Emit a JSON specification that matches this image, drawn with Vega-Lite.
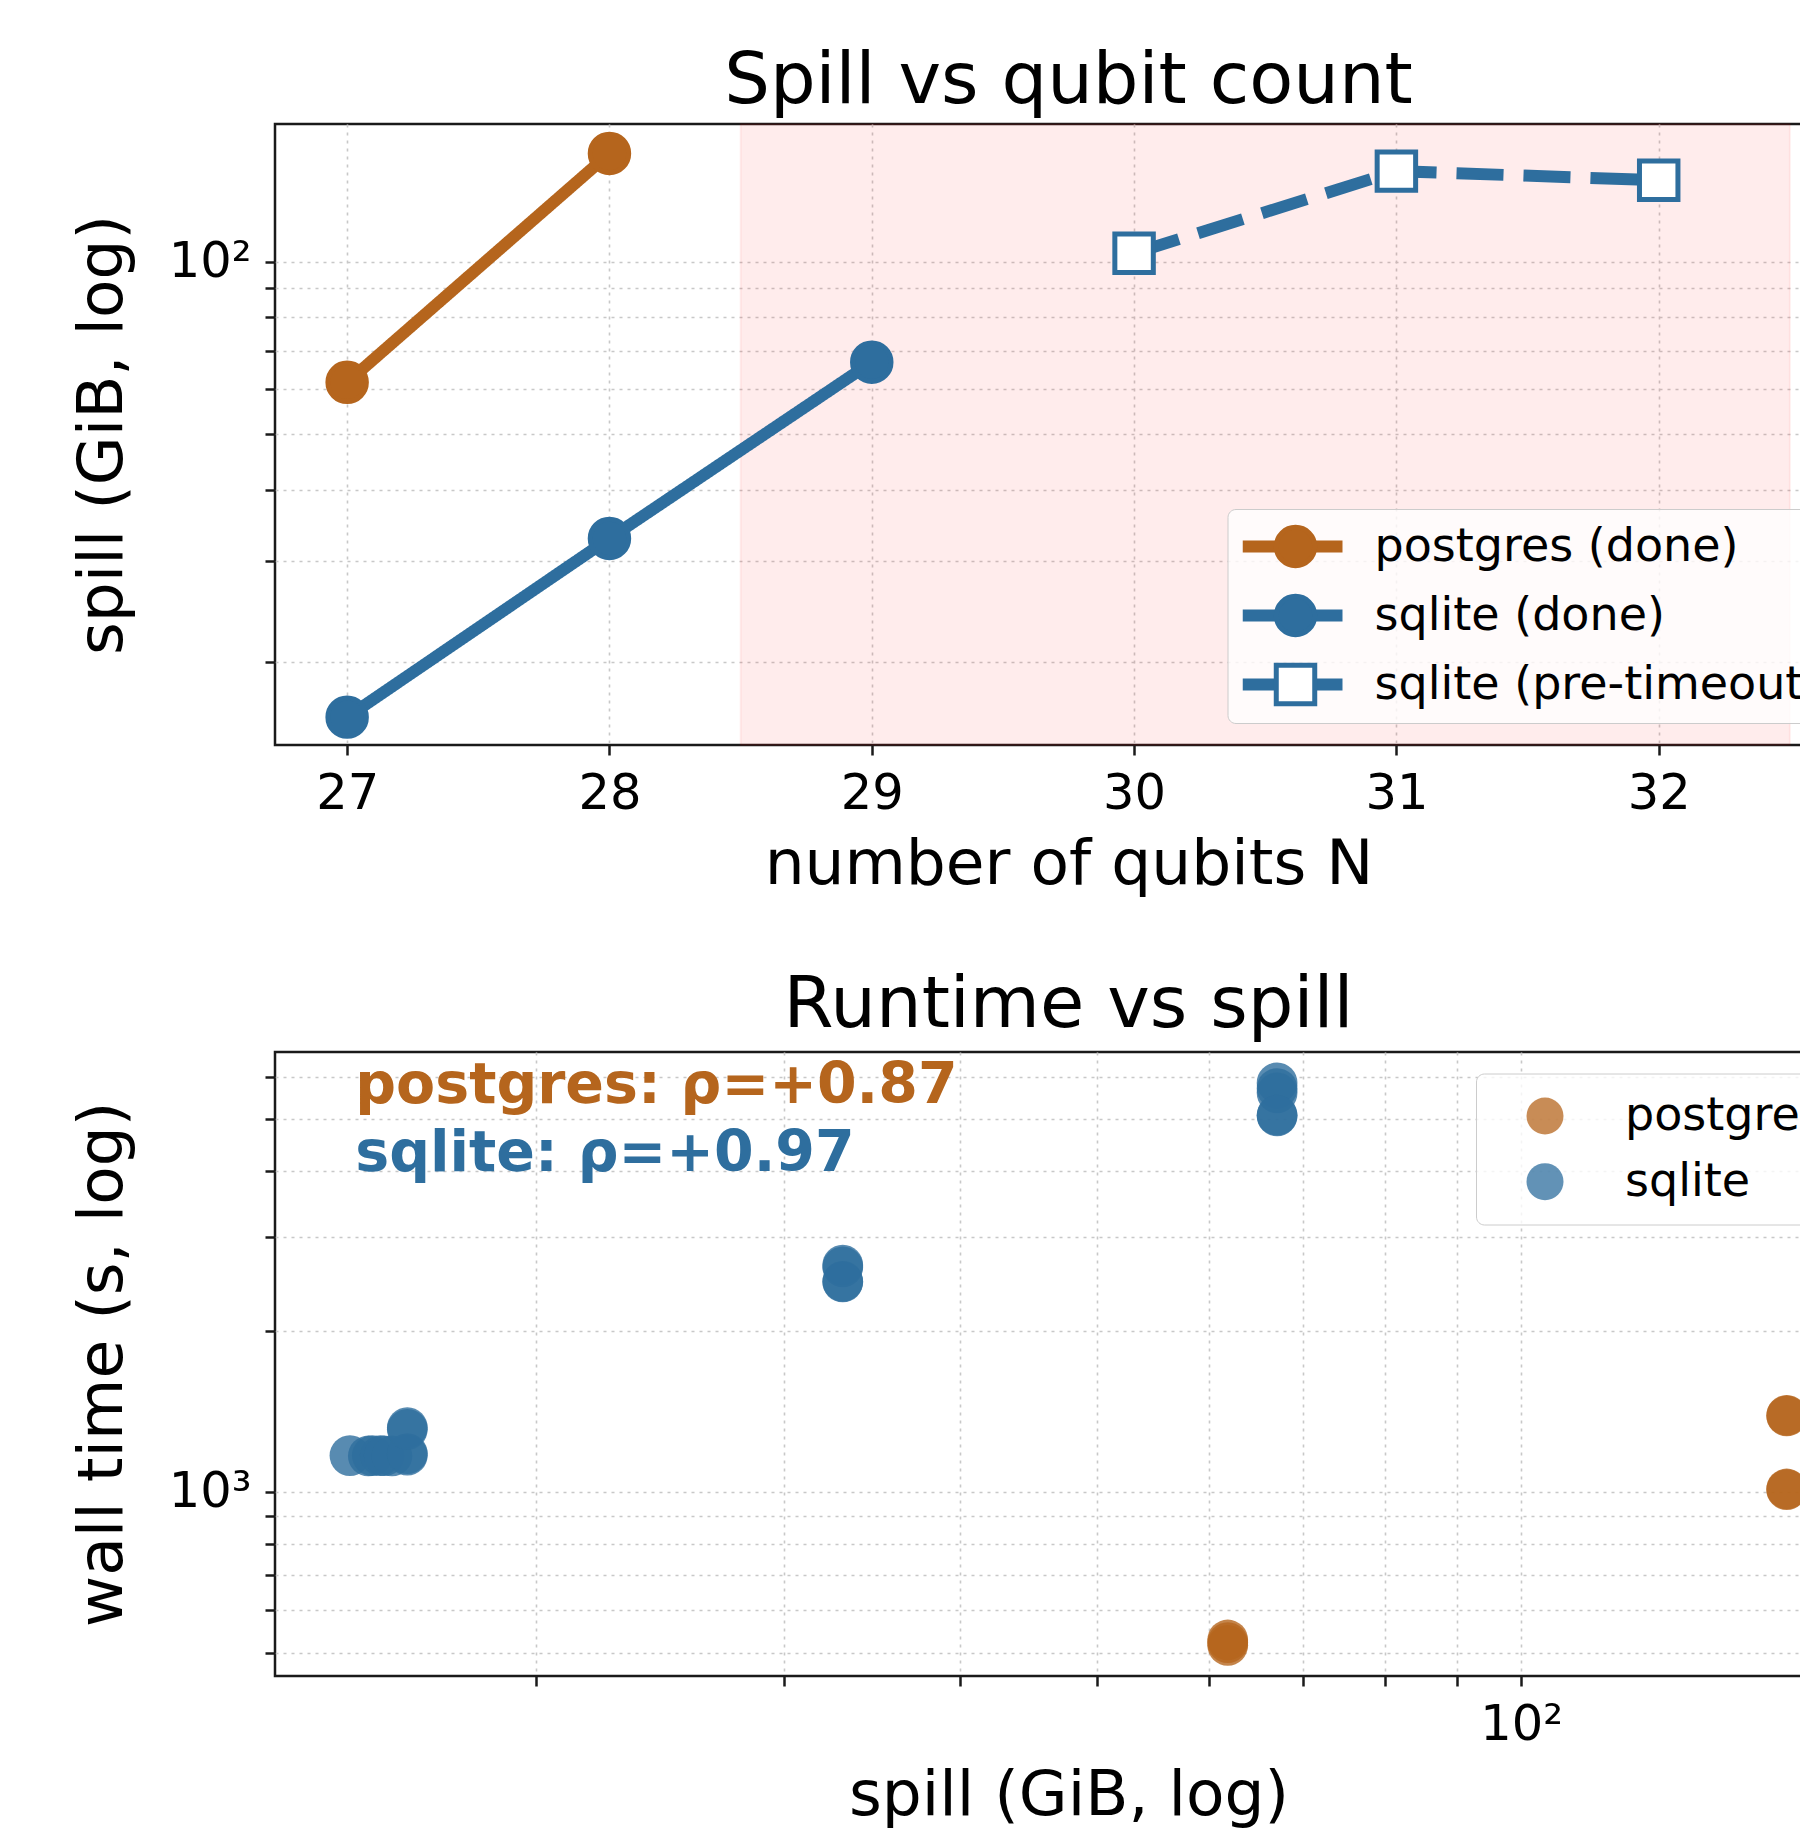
{
  "$schema": "https://vega.github.io/schema/vega-lite/v6.json",
  "background": "white",
  "padding": {"left": 70, "top": 43, "right": 10, "bottom": 5},
  "spacing": 69,
  "resolve": {
    "scale": {"color": "independent", "fill": "independent", "stroke": "independent", "shape": "independent", "size": "independent", "strokeDash": "independent"},
    "legend": {"color": "independent", "fill": "independent", "stroke": "independent", "shape": "independent", "size": "independent", "strokeDash": "independent"}
  },
  "datasets": {
    "qubits": [
      {"series": "postgres (done)", "marker": "pg", "N": 27, "spill": 61.6},
      {"series": "postgres (done)", "marker": "pg", "N": 28, "spill": 154.5},
      {"series": "sqlite (done)", "marker": "sq", "N": 27, "spill": 16.05},
      {"series": "sqlite (done)", "marker": "sq", "N": 28, "spill": 32.9},
      {"series": "sqlite (done)", "marker": "sq", "N": 29, "spill": 66.8},
      {"series": "sqlite (pre-timeout)", "marker": "sqt", "N": 30, "spill": 103.5},
      {"series": "sqlite (pre-timeout)", "marker": "sqt", "N": 31, "spill": 143.9},
      {"series": "sqlite (pre-timeout)", "marker": "sqt", "N": 32, "spill": 138.7}
    ],
    "runs": [
      {"db": "sqlite", "spill": 14.75, "wall": 1170},
      {"db": "sqlite", "spill": 15.2, "wall": 1168},
      {"db": "sqlite", "spill": 15.3, "wall": 1170},
      {"db": "sqlite", "spill": 15.5, "wall": 1170},
      {"db": "sqlite", "spill": 15.6, "wall": 1169},
      {"db": "sqlite", "spill": 15.8, "wall": 1168},
      {"db": "sqlite", "spill": 16.2, "wall": 1172},
      {"db": "sqlite", "spill": 16.2, "wall": 1180},
      {"db": "sqlite", "spill": 16.2, "wall": 1320},
      {"db": "sqlite", "spill": 16.2, "wall": 1310},
      {"db": "sqlite", "spill": 33.0, "wall": 2661},
      {"db": "sqlite", "spill": 33.0, "wall": 2640},
      {"db": "sqlite", "spill": 33.0, "wall": 2474},
      {"db": "sqlite", "spill": 33.0, "wall": 2480},
      {"db": "sqlite", "spill": 67.1, "wall": 5840},
      {"db": "sqlite", "spill": 67.1, "wall": 5700},
      {"db": "sqlite", "spill": 67.1, "wall": 5595},
      {"db": "sqlite", "spill": 67.1, "wall": 5066},
      {"db": "sqlite", "spill": 67.1, "wall": 5080},
      {"db": "postgres", "spill": 61.9, "wall": 528},
      {"db": "postgres", "spill": 61.9, "wall": 516},
      {"db": "postgres", "spill": 61.9, "wall": 522},
      {"db": "postgres", "spill": 154.3, "wall": 1392},
      {"db": "postgres", "spill": 154.3, "wall": 1388},
      {"db": "postgres", "spill": 154.3, "wall": 1013},
      {"db": "postgres", "spill": 154.3, "wall": 1010}
    ]
  },
  "config": {
    "font": "DejaVu Sans",
    "view": {"stroke": "#1a1a1a", "strokeWidth": 2.5},
    "axis": {
      "domain": false,
      "grid": true,
      "gridColor": "#c8c8c8",
      "gridDash": [3, 5],
      "gridWidth": 1.6,
      "tickColor": "#1a1a1a",
      "tickWidth": 2.5,
      "tickSize": 10,
      "labelFont": "DejaVu Sans",
      "labelFontSize": 49.5,
      "labelColor": "#000000",
      "labelPadding": 14,
      "labelFlush": false,
      "labelOverlap": false,
      "titleFont": "DejaVu Sans",
      "titleFontSize": 63,
      "titleFontWeight": "normal",
      "titleColor": "#000000"
    },
    "title": {"font": "DejaVu Sans", "fontSize": 72, "fontWeight": "normal", "color": "#000000", "anchor": "middle"},
    "legend": {"labelFont": "DejaVu Sans", "labelFontSize": 46, "labelColor": "#000000", "labelLimit": 2000}
  },
  "vconcat": [
    {
      "width": 1587,
      "height": 621,
      "title": {"text": "Spill vs qubit count", "offset": 5},
      "layer": [
        {
          "data": {"values": [{}]},
          "mark": {"type": "rect", "fill": "#ff0000", "fillOpacity": 0.075, "stroke": "#ff0000", "strokeOpacity": 0.06, "strokeWidth": 2},
          "encoding": {
            "x": {"datum": 28.5, "type": "quantitative", "scale": {"domain": [26.725, 32.775], "nice": false, "zero": false},
              "axis": {"values": [27, 28, 29, 30, 31, 32], "format": "d", "title": "number of qubits N", "titlePadding": 16}},
            "x2": {"datum": 32.5}
          }
        },
        {
          "data": {"name": "qubits"},
          "mark": {"type": "line", "strokeWidth": 12},
          "encoding": {
            "x": {"field": "N", "type": "quantitative"},
            "y": {"field": "spill", "type": "quantitative",
              "scale": {"type": "log", "domain": [14.35, 173.9], "nice": false},
              "axis": {"values": [20, 30, 40, 50, 60, 70, 80, 90, 100], "labelExpr": "datum.value == 100 ? '10²' : ''", "title": "spill (GiB, log)", "titlePadding": 33.5,
                "encode": {"ticks": {"update": {"x2": {"signal": "datum.value == 100 ? -10 : -6"}}}}}},
            "color": {"field": "series", "type": "nominal",
              "scale": {"domain": ["postgres (done)", "sqlite (done)", "sqlite (pre-timeout)"], "range": ["#b5651d", "#2e6e9e", "#2e6e9e"]},
              "legend": {"orient": "none", "legendX": 952.5, "legendY": 385, "title": null, "symbolType": "stroke", "symbolSize": 10000, "symbolStrokeWidth": 12, "symbolOffset": -6, "labelOffset": 26, "padding": 15, "rowPadding": 22, "clipHeight": 45, "fillColor": "rgba(255,255,255,0.8)", "strokeColor": "#cccccc", "cornerRadius": 8}},
            "strokeDash": {"field": "series", "type": "nominal",
              "scale": {"domain": ["postgres (done)", "sqlite (done)", "sqlite (pre-timeout)"], "range": [[1, 0], [1, 0], [47, 20]]}}
          }
        },
        {
          "data": {"name": "qubits"},
          "mark": {"type": "point", "strokeWidth": 5, "opacity": 1},
          "encoding": {
            "x": {"field": "N", "type": "quantitative"},
            "y": {"field": "spill", "type": "quantitative"},
            "shape": {"field": "marker", "type": "nominal",
              "scale": {"domain": ["pg", "sq", "sqt"], "range": ["circle", "circle", "square"]},
              "legend": {"orient": "none", "legendX": 952.5, "legendY": 385, "title": null, "labelOpacity": 0, "symbolOffset": 30, "symbolStrokeWidth": 5, "padding": 15, "rowPadding": 22, "clipHeight": 45}},
            "fill": {"field": "marker", "type": "nominal",
              "scale": {"domain": ["pg", "sq", "sqt"], "range": ["#b5651d", "#2e6e9e", "#ffffff"]}},
            "stroke": {"field": "marker", "type": "nominal",
              "scale": {"domain": ["pg", "sq", "sqt"], "range": ["#b5651d", "#2e6e9e", "#2e6e9e"]}},
            "size": {"field": "marker", "type": "nominal",
              "scale": {"domain": ["pg", "sq", "sqt"], "range": [1480, 1480, 1170]}}
          }
        }
      ]
    },
    {
      "width": 1587,
      "height": 624,
      "title": {"text": "Runtime vs spill", "offset": 10},
      "layer": [
        {
          "data": {"name": "runs"},
          "mark": {"type": "circle", "size": 1660, "opacity": 0.8},
          "encoding": {
            "x": {"field": "spill", "type": "quantitative",
              "scale": {"type": "log", "domain": [13.05, 174.5], "nice": false},
              "axis": {"values": [20, 30, 40, 50, 60, 70, 80, 90, 100], "labelExpr": "datum.value == 100 ? '10²' : ''", "title": "spill (GiB, log)", "titlePadding": 16,
                "encode": {"ticks": {"update": {"y2": {"signal": "datum.value == 100 ? 10 : 6"}}}}}},
            "y": {"field": "wall", "type": "quantitative",
              "scale": {"type": "log", "domain": [452, 6673], "nice": false},
              "axis": {"values": [500, 600, 700, 800, 900, 1000, 2000, 3000, 4000, 5000, 6000], "labelExpr": "datum.value == 1000 ? '10³' : ''", "title": "wall time (s, log)", "titlePadding": 33.5,
                "encode": {"ticks": {"update": {"x2": {"signal": "datum.value == 1000 ? -10 : -6"}}}}}},
            "color": {"field": "db", "type": "nominal",
              "scale": {"domain": ["postgres", "sqlite"], "range": ["#b5651d", "#2e6e9e"]},
              "legend": {"orient": "none", "legendX": 1201, "legendY": 21.5, "title": null, "symbolType": "circle", "symbolSize": 1369, "symbolOpacity": 0.75, "symbolOffset": 26.5, "labelOffset": 57, "padding": 19.5, "rowPadding": 19.7, "fillColor": "rgba(255,255,255,0.8)", "strokeColor": "#cccccc", "cornerRadius": 8}}
          }
        },
        {
          "data": {"values": [{}]},
          "mark": {"type": "text", "align": "left", "baseline": "alphabetic", "fontSize": 57, "fontWeight": "bold", "font": "DejaVu Sans", "color": "#b5651d"},
          "encoding": {"x": {"datum": 14.88}, "y": {"datum": 5357}, "text": {"value": "postgres: ρ=+0.87"}}
        },
        {
          "data": {"values": [{}]},
          "mark": {"type": "text", "align": "left", "baseline": "alphabetic", "fontSize": 57, "fontWeight": "bold", "font": "DejaVu Sans", "color": "#2e6e9e"},
          "encoding": {"x": {"datum": 14.88}, "y": {"datum": 3997}, "text": {"value": "sqlite: ρ=+0.97"}}
        }
      ]
    }
  ]
}
